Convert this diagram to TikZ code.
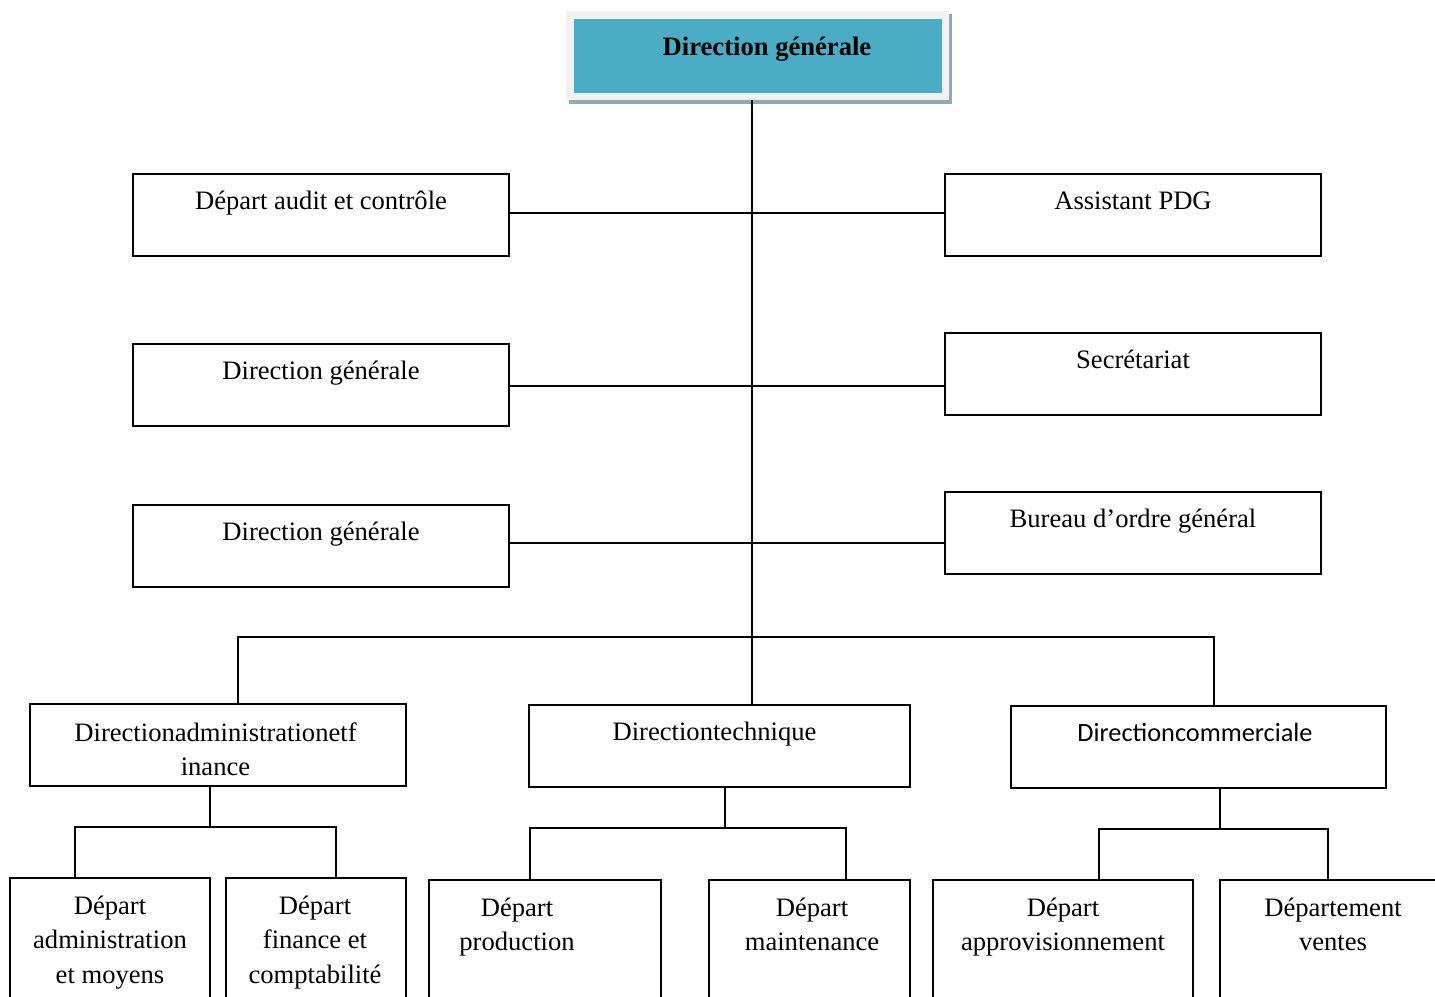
\documentclass[tikz,border=0pt]{standalone}
\usepackage{fontspec}
\setmainfont{Liberation Serif}
\newfontfamily\carlito{Carlito}
\usetikzlibrary{calc}
\definecolor{dgblue}{RGB}{75,172,198}
\definecolor{dgframe}{RGB}{242,242,242}
\definecolor{dgshadow}{RGB}{143,170,181}
\tikzset{
  box/.style={draw, line width=1.8pt, rectangle, inner sep=0pt, minimum height=82pt},
  lowbox/.style={draw, line width=1.8pt, rectangle, inner sep=0pt, minimum height=140pt},
  conn/.style={line width=1.8pt},
  txt/.style={inner sep=0pt, anchor=base, align=center,
    font=\fontsize{26.6pt}{34.5pt}\selectfont},
}
\begin{document}
\begin{tikzpicture}[x=1pt, y=-1pt]
\useasboundingbox (0,0) rectangle (1435,996);
\clip (0,0) rectangle (1435,996);
\fill[white] (0,0) rectangle (1435,996);

% top box
\node[fill=dgshadow, inner sep=0pt, minimum width=383pt, minimum height=90pt] (shadow) at (760,59) {};
\node[fill=dgframe, inner sep=0pt, minimum width=383pt, minimum height=89pt] (top) at (757.5,55.5) {};
\node[fill=dgblue, inner sep=0pt, minimum width=368pt, minimum height=74pt] (topin) at (758,56) {};
\node[txt, font=\fontsize{26.6pt}{34.5pt}\selectfont\bfseries] (ttop) at (767,55) {Direction générale};

% side boxes
\node[box, minimum width=376pt] (audit) at (321,215) {};
\node[box, minimum width=376pt] (pdg)   at (1133,215) {};
\node[box, minimum width=376pt] (dg1)   at (321,385) {};
\node[box, minimum width=376pt] (sec)   at (1133,374) {};
\node[box, minimum width=376pt] (dg2)   at (321,546) {};
\node[box, minimum width=376pt] (bog)   at (1133,533) {};

\node[txt] (taudit) at ($(audit.north)+(0,36)$) {Départ audit et contrôle};
\node[txt] (tpdg)   at ($(pdg.north)+(0,36)$)   {Assistant PDG};
\node[txt] (tdg1)   at ($(dg1.north)+(0,36)$)   {Direction générale};
\node[txt] (tsec)   at ($(sec.north)+(0,36)$)   {Secrétariat};
\node[txt] (tdg2)   at ($(dg2.north)+(0,36)$)   {Direction générale};
\node[txt] (tbog)   at ($(bog.north)+(0,36)$)   {Bureau d’ordre général};

% directions
\node[box, minimum width=376pt] (dadm)  at (218,745) {};
\node[box, minimum width=381pt] (dtech) at (719.5,746) {};
\node[box, minimum width=375pt] (dcom)  at (1198.5,747) {};

% multi-line nodes: base anchor is on the last line
\node[txt] (tdadm)  at ($(dadm.north)+(-2.5,72.5)$) {Directionadministrationetf\\inance};
\node[txt] (tdtech) at ($(dtech.north)+(-5,36)$) {Directiontechnique};
\node[txt, font=\fontsize{26.3pt}{34.5pt}\carlito] (tdcom) at ($(dcom.north)+(-3.5,36)$) {Directioncommerciale};

% departments
\node[lowbox, minimum width=200pt] (b1) at (110,948) {};
\node[lowbox, minimum width=180pt] (b2) at (316,948) {};
\node[lowbox, minimum width=232pt] (b3) at (545,950) {};
\node[lowbox, minimum width=201pt] (b4) at (809.5,950) {};
\node[lowbox, minimum width=260pt] (b5) at (1063,950) {};
\node[lowbox, minimum width=240pt] (b6) at (1340,950) {};

\node[txt] (tb1) at ($(b1.north)+(0,106)$) {Départ\\administration\\et moyens};
\node[txt] (tb2) at ($(b2.north)+(-1,106)$) {Départ\\finance et\\comptabilité};
\node[txt] (tb3) at ($(b3.north)+(-28,71.5)$) {Départ\\production};
\node[txt] (tb4) at ($(b4.north)+(2.5,71.5)$) {Départ\\maintenance};
\node[txt] (tb5) at ($(b5.north)+(0,71.5)$) {Départ\\approvisionnement};
\node[txt] (tb6) at ($(b6.north)+(-7,71.5)$) {Département\\ventes};

% connectors
\coordinate (trunk) at (752,100);
\coordinate (r1) at (752,213);
\coordinate (r2) at (752,386);
\coordinate (r3) at (752,543);
\coordinate (busL) at (238,637);
\coordinate (busR) at (1214,637);
\coordinate (jA) at (210,827);
\coordinate (jA1) at (75,827);
\coordinate (jA2) at (336,827);
\coordinate (jB) at (725,828);
\coordinate (jB1) at (530,828);
\coordinate (jB2) at (846,828);
\coordinate (jC) at (1220,829);
\coordinate (jC1) at (1099,829);
\coordinate (jC2) at (1328,829);

\draw[conn] (top.south -| trunk) -- (trunk |- dtech.north);
\draw[conn] (r1 -| audit.east) -- (r1 -| pdg.west);
\draw[conn] (r2 -| dg1.east) -- (r2 -| sec.west);
\draw[conn] (r3 -| dg2.east) -- (r3 -| bog.west);
\draw[conn] (busL |- dadm.north) -- (busL) -- (busR) -- (busR |- dcom.north);

\draw[conn] (jA |- dadm.south) -- (jA);
\draw[conn] (jA1 |- b1.north) -- (jA1) -- (jA2) -- (jA2 |- b2.north);
\draw[conn] (jB |- dtech.south) -- (jB);
\draw[conn] (jB1 |- b3.north) -- (jB1) -- (jB2) -- (jB2 |- b4.north);
\draw[conn] (jC |- dcom.south) -- (jC);
\draw[conn] (jC1 |- b5.north) -- (jC1) -- (jC2) -- (jC2 |- b6.north);
\end{tikzpicture}
\end{document}
